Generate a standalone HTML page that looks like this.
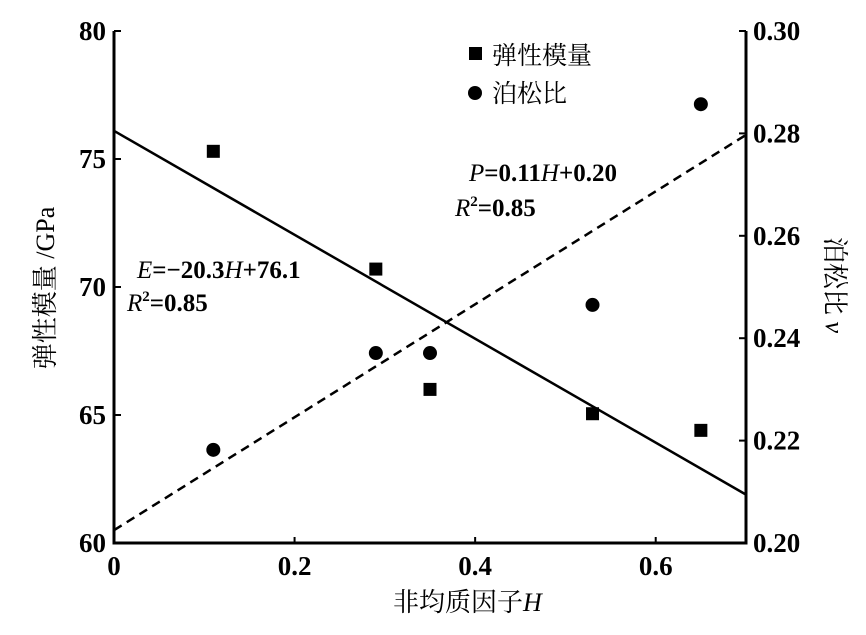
<!DOCTYPE html>
<html><head><meta charset="utf-8"><style>
body{margin:0;background:#fff}
svg text{font-family:"Liberation Serif","Noto Serif CJK SC",serif;fill:#000}
</style></head><body>
<svg id="c" width="866" height="630" xmlns="http://www.w3.org/2000/svg">
<g id="ax"></g>
<g id="marks"></g>
<g>
<rect x="469" y="47" width="13" height="13" fill="#000"/>
<text x="492" y="64" font-size="25">弹性模量</text>
<circle cx="475" cy="93" r="7" fill="#000"/>
<text x="492" y="102" font-size="25">泊松比</text>
</g>
<text x="469" y="181" font-size="25" font-weight="bold"><tspan font-style="italic" font-weight="normal">P</tspan>=0.11<tspan font-style="italic" font-weight="normal">H</tspan>+0.20</text>
<text x="455" y="216" font-size="25" font-weight="bold"><tspan font-style="italic" font-weight="normal">R</tspan><tspan font-size="15" dy="-10">2</tspan><tspan dy="10">=0.85</tspan></text>
<text x="137" y="278" font-size="25" font-weight="bold"><tspan font-style="italic" font-weight="normal">E</tspan>=−20.3<tspan font-style="italic" font-weight="normal">H</tspan>+76.1</text>
<text x="127" y="311" font-size="25" font-weight="bold"><tspan font-style="italic" font-weight="normal">R</tspan><tspan font-size="15" dy="-10">2</tspan><tspan dy="10">=0.85</tspan></text>
<text x="393" y="611" font-size="26">非均质因子<tspan font-style="italic">H</tspan></text>
<text transform="translate(54,288) rotate(-90)" text-anchor="middle" font-size="26">弹性模量   /GPa</text>
<text transform="translate(826,285) rotate(90)" text-anchor="middle" font-size="26">泊松比 <tspan font-style="italic">ν</tspan></text>
</svg>
<script>
const xTicks=[0,0.2,0.4,0.6];
const xLabels=["0","0.2","0.4","0.6"];
const yLeftTicks=[60,65,70,75,80];
const yRightTicks=[0.20,0.22,0.24,0.26,0.28,0.30];
const hSquare=[0.11,0.29,0.35,0.53,0.65];
const modulus=[75.3,70.7,66.0,65.05,64.4];
const hCircle=[0.11,0.29,0.35,0.53,0.65];
const poisson=[0.2182,0.2371,0.2371,0.2465,0.2857];
const eFit=[-20.3,76.1];
const pFit=[0.1103,0.2025];
const L=114,R=746,T=31,B=543;
const x=v=>L+(v-0)/0.7*(R-L);
const yl=v=>B-(v-60)/20*(B-T);
const yr=v=>B-(v-0.2)/0.1*(B-T);
const NS="http://www.w3.org/2000/svg";
function mk(p,t,a){const e=document.createElementNS(NS,t);for(const k in a)e.setAttribute(k,a[k]);p.appendChild(e);return e;}
const ax=document.getElementById('ax'),mg=document.getElementById('marks');
let f=mk(ax,'path',{d:`M${L},${T}V${B}H${R}V${T}`,fill:'none',stroke:'#000','stroke-width':3});


xTicks.forEach((v,i)=>{
 const t=mk(ax,'line',{x1:x(v),x2:x(v),y1:B,y2:B-6,stroke:'#000','stroke-width':2});
 
 
 const l=mk(ax,'text',{x:x(v),y:B+32,'text-anchor':'middle','font-size':27,'font-weight':'bold'});
 l.textContent=xLabels[i];
 
 
});
yLeftTicks.forEach(v=>{
 const t=mk(ax,'line',{x1:L,x2:L+7,y1:yl(v),y2:yl(v),stroke:'#000','stroke-width':2});
 
 
 const l=mk(ax,'text',{x:L-8,y:yl(v)+9,'text-anchor':'end','font-size':27,'font-weight':'bold'});
 l.textContent=v;
 
 
});
yRightTicks.forEach(v=>{
 const t=mk(ax,'line',{x1:R,x2:R-7,y1:yr(v),y2:yr(v),stroke:'#000','stroke-width':2});
 
 
 const l=mk(ax,'text',{x:R+7,y:yr(v)+9,'font-size':27,'font-weight':'bold'});
 l.textContent=v.toFixed(2);
 
 
});
let e1=mk(mg,'line',{x1:x(0),y1:yl(eFit[1]),x2:x(0.7),y2:yl(eFit[1]+eFit[0]*0.7),stroke:'#000','stroke-width':2.5});


let p1=mk(mg,'line',{x1:x(0),y1:yr(pFit[1]),x2:x(0.7),y2:yr(pFit[1]+pFit[0]*0.7),stroke:'#000','stroke-width':2.5,'stroke-dasharray':'9,6'});


hSquare.forEach((h,i)=>{
 const s=mk(mg,'rect',{x:x(h)-6.5,y:yl(modulus[i])-6.5,width:13,height:13,fill:'#000'});
 
 
});
hCircle.forEach((h,i)=>{
 const c=mk(mg,'circle',{cx:x(h),cy:yr(poisson[i]),r:7,fill:'#000'});
 
 
});
</script>
</body></html>
